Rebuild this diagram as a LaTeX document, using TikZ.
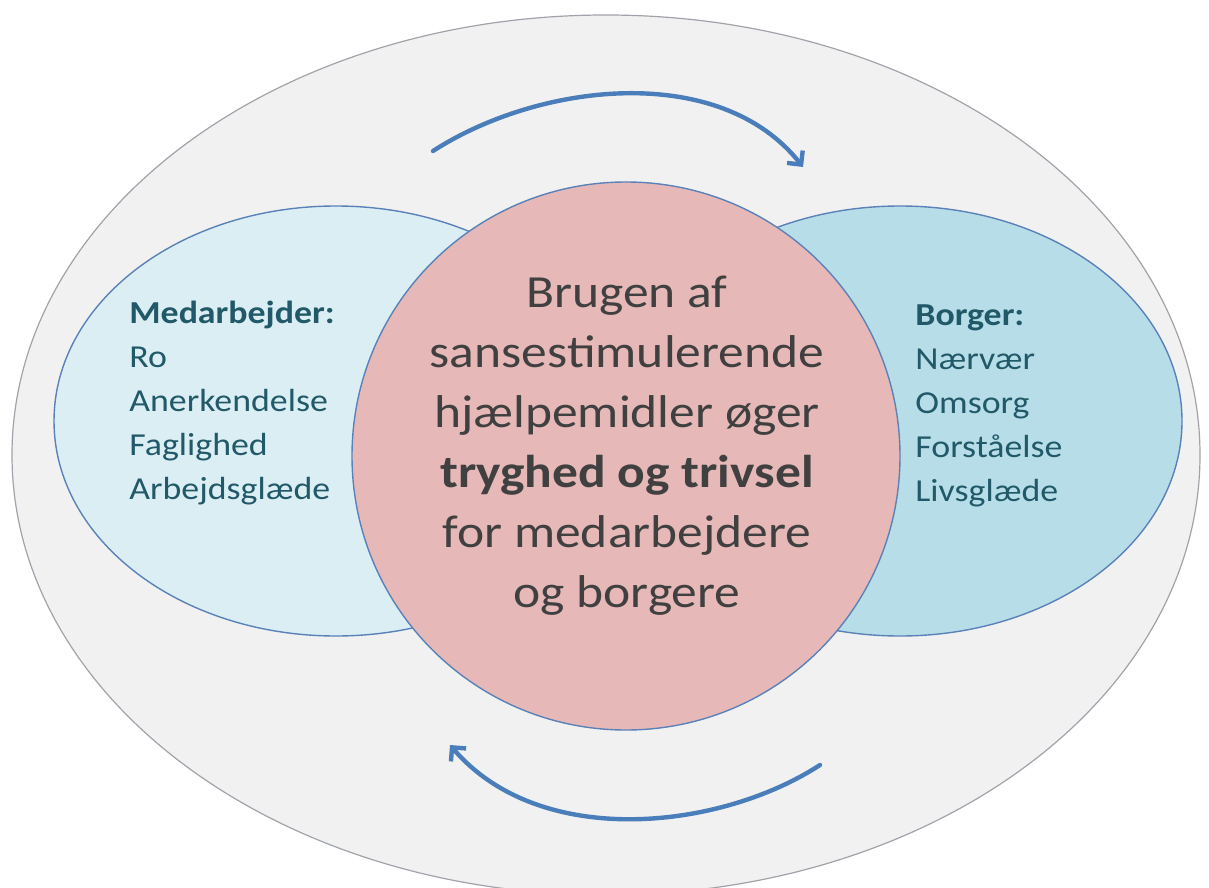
\documentclass[tikz,border=0pt]{standalone}
\usepackage{fontspec}
\setmainfont{Carlito}[FakeStretch=1.12]
\usetikzlibrary{arrows.meta,shapes.geometric}
\definecolor{outerfill}{HTML}{F1F1F1}
\definecolor{outerline}{HTML}{A0A4AA}
\definecolor{leftfill}{HTML}{DBEEF4}
\definecolor{rightfill}{HTML}{B7DEE8}
\definecolor{circfill}{HTML}{E6B9B8}
\definecolor{shapeline}{HTML}{5A82B8}
\definecolor{sidetext}{HTML}{215968}
\definecolor{maintext}{HTML}{404040}
\definecolor{arrowblue}{HTML}{4A7EBB}
\tikzset{
  blob/.style={ellipse, draw=shapeline, line width=0.7pt, inner sep=0pt},
  sidelabel/.style={text=sidetext, font=\fontsize{16pt}{22pt}\selectfont, align=left, inner sep=0pt},
  mainlabel/.style={text=maintext, font=\fontsize{23pt}{30pt}\selectfont, align=center, inner sep=0pt},
  cyclearrow/.style={draw=arrowblue, line width=2.2pt, line cap=round, -{Straight Barb[length=5pt,width=10pt,line width=2.2pt]}}
}
\begin{document}
\begin{tikzpicture}[x=0.5pt,y=-0.5pt]
\useasboundingbox (0,0) rectangle (1209,888);
\clip (0,0) rectangle (1209,888);
\fill[white] (0,0) rectangle (1209,888);
\node[ellipse, draw=outerline, fill=outerfill, line width=0.6pt, minimum width=594pt, minimum height=440pt, inner sep=0pt] (outer) at (606,455) {};
\node[blob, fill=leftfill, minimum width=282pt, minimum height=215pt] (left) at (336,421) {};
\node[blob, fill=rightfill, minimum width=282pt, minimum height=215pt] (right) at (900,421) {};
\node[blob, fill=circfill, minimum width=274pt, minimum height=274pt] (center) at (626,456) {};
\node[sidelabel, anchor=base west] (lefttext) at (129,499) {\textbf{Medarbejder:}\\Ro\\Anerkendelse\\Faglighed\\Arbejdsglæde};
\node[sidelabel, anchor=base west] (righttext) at (915,501) {\textbf{Borger:}\\Nærvær\\Omsorg\\Forståelse\\Livsglæde};
\node[mainlabel, anchor=base] (maintext) at (627,607) {Brugen af\\sansestimulerende\\hjælpemidler øger\\\textbf{tryghed og trivsel}\\for medarbejdere\\og borgere};
\coordinate (topstart) at (433,151);
\coordinate (topend) at (803,167);
\coordinate (botstart) at (820,765);
\coordinate (botend) at (450,745);
\draw[cyclearrow] (topstart) .. controls (540,82) and (720,62) .. (topend);
\draw[cyclearrow] (botstart) .. controls (720,830) and (540,850) .. (botend);
\end{tikzpicture}
\end{document}
